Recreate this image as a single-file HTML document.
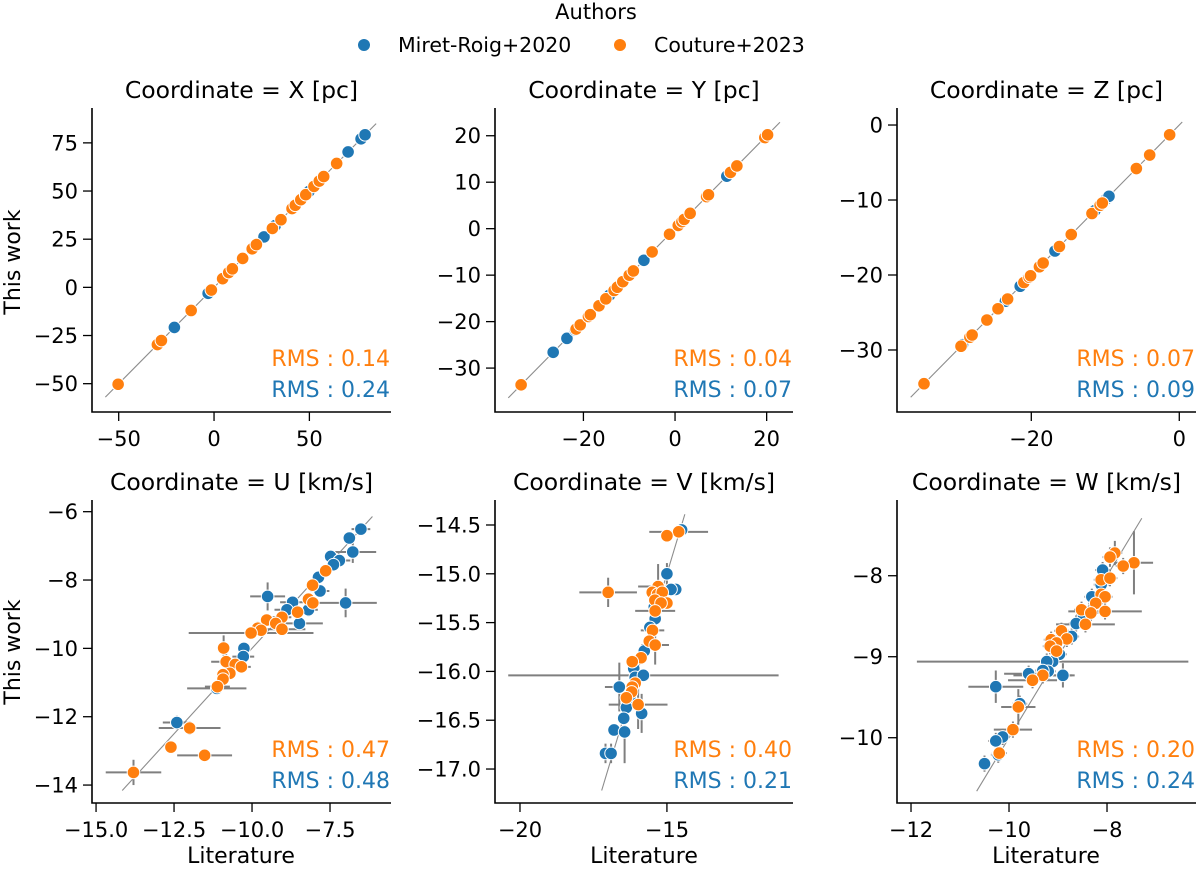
<!DOCTYPE html>
<html><head><meta charset="utf-8"><style>
html,body{margin:0;padding:0;background:#fff;}
svg{display:block;font-family:"DejaVu Sans","Liberation Sans",sans-serif;}
</style></head><body>
<svg id="fig" width="1200" height="869" viewBox="0 0 1200 869" xmlns="http://www.w3.org/2000/svg">
<g>
<text x="596" y="19" font-size="21" text-anchor="middle">Authors</text>
<circle cx="364" cy="45" r="6" fill="#1f77b4"/>
<text x="398" y="52" font-size="20.5">Miret-Roig+2020</text>
<circle cx="620" cy="45" r="6" fill="#ff7f0e"/>
<text x="654" y="52" font-size="20.5">Couture+2023</text>
</g>
<text transform="translate(20,262) rotate(-90)" font-size="22" text-anchor="middle">This work</text>
<text transform="translate(20,652) rotate(-90)" font-size="22" text-anchor="middle">This work</text>
<text x="241" y="863" font-size="22" text-anchor="middle">Literature</text>
<text x="644" y="863" font-size="22" text-anchor="middle">Literature</text>
<text x="1046" y="863" font-size="22" text-anchor="middle">Literature</text>
</svg>
<script>
// ---- data ----
const xBlueLit = [-20.8,-3.1,26.2,32.1,49.8,70.3,77.1,79.2];
const xBlueThis = [-20.8,-3.1,26.2,32.1,49.8,70.3,77.1,79.2];
const xOrangeLit = [-50.3,-29.7,-27.6,-12,-1.4,4.5,7.7,9.6,15,20,22.2,30.6,35.1,40.9,42.6,45.5,48.1,52.4,55.2,57.5,64.3];
const xOrangeThis = [-50.3,-29.7,-27.6,-12,-1.4,4.5,7.7,9.6,15,20,22.2,30.6,35.1,40.9,42.6,45.5,48.1,52.4,55.2,57.5,64.3];
const yBlueLit = [-26.6,-23.6,-21.8,-14.3,-6.8,11.3];
const yBlueThis = [-26.6,-23.6,-21.8,-14.3,-6.8,11.3];
const yOrangeLit = [-33.6,-21.6,-20.7,-18.9,-18.5,-16.6,-15.1,-13.3,-12.6,-11.4,-10.0,-9.1,-5.0,-1.2,0.7,1.5,2.0,3.3,6.9,7.3,12.1,13.5,19.6,20.2];
const yOrangeThis = [-33.6,-21.6,-20.7,-18.9,-18.5,-16.6,-15.1,-13.3,-12.6,-11.4,-10.0,-9.1,-5.0,-1.2,0.7,1.5,2.0,3.3,6.9,7.3,12.1,13.5,19.6,20.2];
const zBlueLit = [-29.3,-23.5,-21.5,-20.6,-16.8,-11.4,-9.8,-9.5];
const zBlueThis = [-29.3,-23.5,-21.5,-20.6,-16.8,-11.4,-9.8,-9.5];
const zOrangeLit = [-34.5,-29.5,-28.3,-28.0,-26.0,-24.5,-23.2,-21.0,-20.3,-20.1,-18.9,-18.4,-16.2,-14.6,-11.8,-10.7,-10.4,-5.8,-4.0,-1.3];
const zOrangeThis = [-34.5,-29.5,-28.3,-28.0,-26.0,-24.5,-23.2,-21.0,-20.3,-20.1,-18.9,-18.4,-16.2,-14.6,-11.8,-10.7,-10.4,-5.8,-4.0,-1.3];

const uBlueLit = [-6.51,-6.88,-6.77,-7.48,-7.2,-7.39,-7.87,-7.82,-7.0,-9.5,-8.7,-8.88,-8.19,-8.48,-10.26,-10.28,-11.13,-12.41];
const uBlueThis = [-6.51,-6.77,-7.18,-7.31,-7.43,-7.55,-7.92,-8.32,-8.67,-8.48,-8.65,-8.87,-8.87,-9.27,-10.0,-10.24,-11.17,-12.17];
const uBlueXerr = [0.3,0.15,0.75,0.15,0.35,0.15,0.15,0.3,1.0,0.56,0.4,0.4,0.3,0.75,0.15,0.35,0.95,0.45];
const uBlueYerr = [0.1,0.12,0.32,0.1,0.12,0.1,0.1,0.12,0.42,0.41,0.12,0.12,0.2,0.2,0.12,0.12,0.1,0.2];
const uOrangeLit = [-7.64,-8.06,-8.19,-8.05,-8.54,-9.04,-9.53,-9.24,-9.04,-9.82,-9.71,-10.03,-10.91,-10.83,-10.54,-10.34,-10.71,-10.93,-10.93,-11.11,-12.0,-12.6,-11.52,-13.8];
const uOrangeThis = [-7.73,-8.15,-8.56,-8.67,-8.94,-9.09,-9.17,-9.27,-9.44,-9.41,-9.47,-9.55,-9.99,-10.39,-10.47,-10.54,-10.73,-10.77,-10.9,-11.12,-12.33,-12.89,-13.13,-13.63];
const uOrangeXerr = [0.15,0.15,0.2,0.15,0.15,0.3,0.15,0.35,0.75,0.15,0.2,2.0,0.15,0.48,0.35,0.3,0.15,0.15,0.15,0.4,0.99,0.15,0.88,0.89];
const uOrangeYerr = [0.1,0.15,0.12,0.1,0.2,0.12,0.15,0.1,0.15,0.2,0.12,0.12,0.37,0.25,0.12,0.1,0.12,0.12,0.12,0.1,0.2,0.15,0.15,0.37];

const vBlueLit = [-14.5,-15.0,-14.7,-14.86,-15.43,-15.4,-15.58,-15.77,-16.13,-16.08,-15.8,-16.62,-16.26,-16.38,-15.86,-16.47,-16.8,-16.44,-17.09,-16.9];
const vBlueThis = [-14.55,-15.0,-15.16,-15.16,-15.34,-15.46,-15.55,-15.79,-15.97,-16.06,-16.04,-16.16,-16.27,-16.37,-16.43,-16.48,-16.6,-16.62,-16.84,-16.84];
const vBlueXerr = [0.1,0.15,0.15,0.15,0.15,0.15,0.15,0.15,0.15,0.15,4.6,0.49,0.15,0.15,0.15,0.15,0.15,0.15,0.1,0.1];
const vBlueYerr = [0.03,0.11,0.05,0.05,0.05,0.05,0.05,0.05,0.05,0.05,0.05,0.25,0.05,0.05,0.2,0.05,0.05,0.32,0.1,0.1];
const vOrangeLit = [-14.6,-15.0,-17.0,-15.3,-15.5,-15.32,-15.16,-15.41,-15.0,-15.2,-15.4,-15.49,-15.6,-15.4,-15.88,-16.18,-16.08,-16.18,-16.2,-16.38,-15.98];
const vOrangeThis = [-14.57,-14.61,-15.19,-15.13,-15.19,-15.21,-15.19,-15.27,-15.3,-15.3,-15.38,-15.58,-15.69,-15.73,-15.86,-15.9,-16.12,-16.16,-16.21,-16.27,-16.34];
const vOrangeXerr = [1.0,0.15,0.98,0.68,0.2,0.15,0.15,0.15,0.15,0.2,0.68,0.4,0.15,0.47,0.15,0.2,0.2,0.15,0.15,0.15,1.0];
const vOrangeYerr = [0.05,0.04,0.15,0.23,0.05,0.05,0.05,0.05,0.06,0.06,0.05,0.05,0.05,0.2,0.05,0.05,0.05,0.05,0.05,0.08,0.25];

const wBlueLit = [-8.09,-8.12,-8.31,-8.48,-8.63,-8.72,-8.97,-9.11,-9.23,-9.2,-9.31,-8.9,-9.6,-10.27,-9.78,-10.13,-10.27,-10.22,-10.5];
const wBlueThis = [-7.93,-8.11,-8.26,-8.49,-8.59,-8.75,-8.97,-9.06,-9.06,-9.18,-9.17,-9.23,-9.21,-9.37,-9.58,-9.99,-10.04,-10.21,-10.32];
const wBlueXerr = [0.15,0.15,0.15,0.15,0.15,0.15,0.15,2.77,0.15,0.15,0.15,0.24,0.5,0.56,0.15,0.15,0.15,0.15,0.1];
const wBlueYerr = [0.1,0.1,0.1,0.1,0.1,0.1,0.1,0.1,0.1,0.1,0.1,0.15,0.1,0.2,0.1,0.1,0.1,0.1,0.1];
const wOrangeLit = [-7.84,-7.94,-7.45,-7.67,-8.12,-7.94,-8.12,-8.04,-8.23,-8.52,-8.04,-8.33,-8.44,-8.93,-8.82,-9.14,-9.03,-9.16,-9.03,-9.31,-9.52,-9.81,-9.92,-10.2];
const wOrangeThis = [-7.72,-7.77,-7.84,-7.88,-8.05,-8.03,-8.23,-8.26,-8.34,-8.42,-8.44,-8.46,-8.6,-8.68,-8.78,-8.79,-8.83,-8.87,-8.93,-9.23,-9.29,-9.62,-9.9,-10.19];
const wOrangeXerr = [0.15,0.15,0.39,0.15,0.15,0.15,0.15,0.15,0.15,0.15,0.75,0.15,0.6,0.15,0.15,0.15,0.15,0.15,0.15,0.6,0.5,0.35,0.39,0.15];
const wOrangeYerr = [0.15,0.12,0.39,0.1,0.1,0.1,0.1,0.1,0.1,0.1,0.1,0.1,0.1,0.1,0.1,0.1,0.1,0.1,0.1,0.1,0.1,0.22,0.1,0.1];

const xXTicks = [-50,0,50], xYTicks = [-50,-25,0,25,50,75];
const yXTicks = [-20,0,20], yYTicks = [-30,-20,-10,0,10,20];
const zXTicks = [-20,0], zYTicks = [-30,-20,-10,0];
const uXTicks = [-15,-12.5,-10,-7.5], uXTickLabels = ["−15.0","−12.5","−10.0","−7.5"], uYTicks = [-14,-12,-10,-8,-6];
const vXTicks = [-20,-15], vYTicks = [-17,-16.5,-16,-15.5,-15,-14.5], vYTickLabels = ["−17.0","−16.5","−16.0","−15.5","−15.0","−14.5"];
const wXTicks = [-12,-10,-8], wYTicks = [-10,-9,-8];
const rmsOrange = ["0.14","0.04","0.07","0.47","0.40","0.20"];
const rmsBlue = ["0.24","0.07","0.09","0.48","0.21","0.24"];
const panelTitles = ["Coordinate = X [pc]","Coordinate = Y [pc]","Coordinate = Z [pc]","Coordinate = U [km/s]","Coordinate = V [km/s]","Coordinate = W [km/s]"];

// ---- layout ----
const NS = "http://www.w3.org/2000/svg";
const svg = document.getElementById('fig');
const fmt = v => (v < 0 ? "−" : "") + Math.abs(v);
const panels = [
 {k:'x', box:[92,108,391,412], xd:[-64.0,92.8], yd:[-64.7,93.1], xt:xXTicks, yt:xYTicks, line:[-57,85],
  s:[[xBlueLit,xBlueThis,null,null],[xOrangeLit,xOrangeThis,null,null]]},
 {k:'y', box:[495,108,793,412], xd:[-39.3,25.75], yd:[-39.45,25.97], xt:yXTicks, yt:yYTicks, line:[-36.4,22.9],
  s:[[yBlueLit,yBlueThis,null,null],[yOrangeLit,yOrangeThis,null,null]]},
 {k:'z', box:[897,108,1196,412], xd:[-38.15,2.26], yd:[-38.27,2.27], xt:zXTicks, yt:zYTicks, line:[-36.3,0.4],
  s:[[zBlueLit,zBlueThis,null,null],[zOrangeLit,zOrangeThis,null,null]]},
 {k:'u', box:[92,500,391,803], xd:[-15.13,-5.545], yd:[-14.525,-5.658], xt:uXTicks, xl:uXTickLabels, yt:uYTicks, line:[-14.16,-6.14],
  s:[[uBlueLit,uBlueThis,uBlueXerr,uBlueYerr],[uOrangeLit,uOrangeThis,uOrangeXerr,uOrangeYerr]]},
 {k:'v', box:[495,500,793,803], xd:[-20.85,-10.71], yd:[-17.348,-14.244], xt:vXTicks, yt:vYTicks, yl:vYTickLabels, line:[-17.22,-14.39],
  s:[[vBlueLit,vBlueThis,vBlueXerr,vBlueYerr],[vOrangeLit,vOrangeThis,vOrangeXerr,vOrangeYerr]]},
 {k:'w', box:[897,500,1196,803], xd:[-12.286,-6.184], yd:[-10.806,-7.065], xt:wXTicks, yt:wYTicks, line:[-10.66,-7.29],
  s:[[wBlueLit,wBlueThis,wBlueXerr,wBlueYerr],[wOrangeLit,wOrangeThis,wOrangeXerr,wOrangeYerr]]}
];
const colors = ['#1f77b4','#ff7f0e'];
const seriesNames = ['miret-roig','couture'];
function el(tag, attrs, parent){ const e=document.createElementNS(NS,tag); for(const a in attrs) e.setAttribute(a,attrs[a]); parent.appendChild(e); return e; }

panels.forEach((p,i)=>{
  const [x0,y0,x1,y1]=p.box;
  const sx=v=>x0+(v-p.xd[0])/(p.xd[1]-p.xd[0])*(x1-x0);
  const sy=v=>y1-(v-p.yd[0])/(p.yd[1]-p.yd[0])*(y1-y0);
  const g=el('g',{},svg);
  
  
  const t=el('text',{x:(x0+x1)/2,y:y0-10,'font-size':23.5,'text-anchor':'middle'},g);
  t.textContent=panelTitles[i];
  
  
  const ln=el('line',{x1:sx(p.line[0]),y1:sy(p.line[0]),x2:sx(p.line[1]),y2:sy(p.line[1]),stroke:'#8c8c8c','stroke-width':1.1},g);
  
  
  p.s.forEach((s,si)=>{
    if(!s[2]) return;
    s[0].forEach((xv,j)=>{
      const yv=s[1][j], xe=s[2][j], ye=s[3][j];
      const eh=el('line',{x1:sx(xv-xe),y1:sy(yv),x2:sx(xv+xe),y2:sy(yv),stroke:'#7f7f7f','stroke-width':2},g);
      
      
      const ev=el('line',{x1:sx(xv),y1:sy(yv-ye),x2:sx(xv),y2:sy(yv+ye),stroke:'#7f7f7f','stroke-width':2},g);
      
      
    });
  });
  p.s.forEach((s,si)=>{
    s[0].forEach((xv,j)=>{
      const c=el('circle',{cx:sx(xv),cy:sy(s[1][j]),r:6.3,fill:colors[si],stroke:'#fff','stroke-width':1},g);
      
      
    });
  });
  const sp=el('path',{d:`M${x0},${y0}V${y1}H${x1}`,fill:'none',stroke:'#000','stroke-width':1.6},g);
  
  
  p.xt.forEach((v,j)=>{
    const x=sx(v);
    const tk=el('line',{x1:x,y1:y1,x2:x,y2:y1+9,stroke:'#000','stroke-width':1.3},g);
    
    
    const tl=el('text',{x:x,y:y1+34,'font-size':21,'text-anchor':'middle'},g);
    tl.textContent=p.xl?p.xl[j]:fmt(v);
    
    
  });
  p.yt.forEach((v,j)=>{
    const y=sy(v);
    const tk=el('line',{x1:x0-9,y1:y,x2:x0,y2:y,stroke:'#000','stroke-width':1.3},g);
    
    
    const tl=el('text',{x:x0-14,y:y+7.5,'font-size':21,'text-anchor':'end'},g);
    tl.textContent=p.yl?p.yl[j]:fmt(v);
    
    
  });
  const r1=el('text',{x:x1-1,y:y1-46,'font-size':22,'text-anchor':'end',fill:'#ff7f0e'},g);
  r1.textContent='RMS : '+rmsOrange[i];
  
  
  const r2=el('text',{x:x1-1,y:y1-15,'font-size':22,'text-anchor':'end',fill:'#1f77b4'},g);
  r2.textContent='RMS : '+rmsBlue[i];
  
  
});
</script>
</body></html>
